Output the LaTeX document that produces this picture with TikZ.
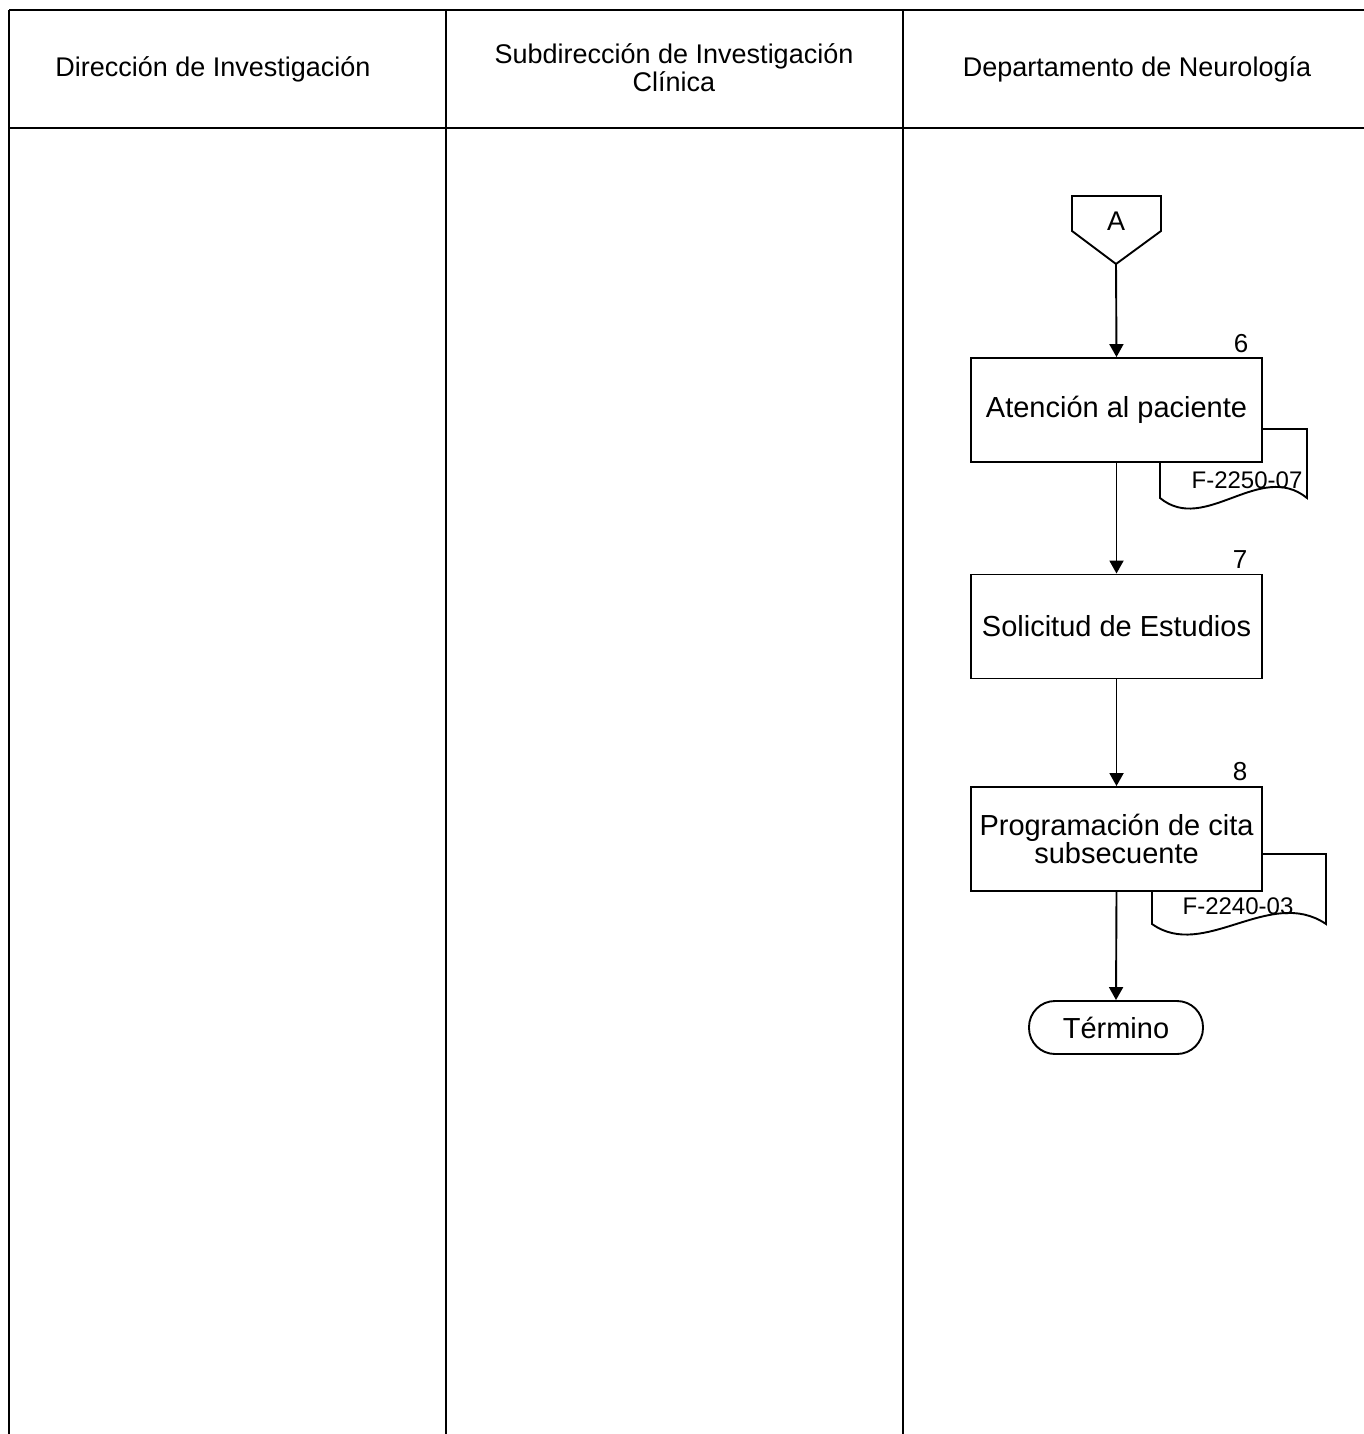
\documentclass[tikz,border=0pt]{standalone}
\usepackage{fontspec}
\setmainfont{Liberation Sans}
\usetikzlibrary{arrows.meta}
\begin{document}
\begin{tikzpicture}[x=1pt,y=-1pt,
  ln/.style={line width=2.2pt,black},
  procbox/.style={draw,line width=1.9pt,fill=white,minimum width=291pt,minimum height=104pt,inner sep=0pt,align=center,font=\fontsize{29}{31}\selectfont},
  hdr/.style={align=center,font=\fontsize{27}{28}\selectfont},
  num/.style={font=\fontsize{26}{28}\selectfont,inner sep=0pt},
  doctxt/.style={font=\fontsize{24}{26}\selectfont,inner sep=0pt},
  docshape/.style={draw,line width=1.9pt,fill=white},
  flow/.style={line width=1.9pt,-{Triangle[width=14pt,length=13pt]}},
  term/.style={draw,line width=1.9pt,fill=white,rounded corners=26pt,minimum width=174pt,minimum height=53pt,inner sep=0pt,font=\fontsize{29}{31}\selectfont}
]
\useasboundingbox (0,0) rectangle (1364,1434);
% lanes
\draw[ln] (9,10) -- (1364,10);
\draw[ln] (9,128) -- (1364,128);
\draw[ln] (9,10) -- (9,1434);
\draw[ln] (446,10) -- (446,1434);
\draw[ln] (903,10) -- (903,1434);
\node[hdr] (h1) at (213,69) {Dirección de Investigación};
\node[hdr] (h2) at (674,68) {Subdirección de Investigación\\Clínica};
\node[hdr] (h3) at (1137,69) {Departamento de Neurología};
% off-page connector
\draw[line width=1.9pt,fill=white] (1072,196) -- (1161,196) -- (1161,231) -- (1116,264) -- (1072,231) -- cycle;
\node[font=\fontsize{27}{29}\selectfont] (A) at (1116,221) {A};
\coordinate (Atip) at (1116,264);
% documents
\draw[docshape] (1160,429) -- (1307,429) -- (1307,498) .. controls (1260,460) and (1205,535) .. (1160,498) -- cycle;
\draw[docshape] (1152,854) -- (1326,854) -- (1326,924) .. controls (1270,886) and (1204,961) .. (1152,924) -- cycle;
\node[doctxt] (d1) at (1247,480) {F-2250-07};
\node[doctxt] (d2) at (1238,906) {F-2240-03};
% boxes
\node[procbox] (b6) at (1116.5,410) {Atención al paciente};
\node[procbox] (b7) at (1116.5,626.5) {Solicitud de Estudios};
\node[procbox] (b8) at (1116.5,839) {Programación de cita\\[-3pt]subsecuente};
\node[num] (n6) at (1241,344) {6};
\node[num] (n7) at (1240,560) {7};
\node[num] (n8) at (1240,772) {8};
\node[term] (t) at (1116,1027.5) {Término};
% flows
\draw[flow] (Atip) -- (b6.north);
\draw[flow] (b6.south) -- (b7.north);
\draw[flow] (b7.south) -- (b8.north);
\draw[flow] (b8.south) -- (t.north);
\end{tikzpicture}
\end{document}
